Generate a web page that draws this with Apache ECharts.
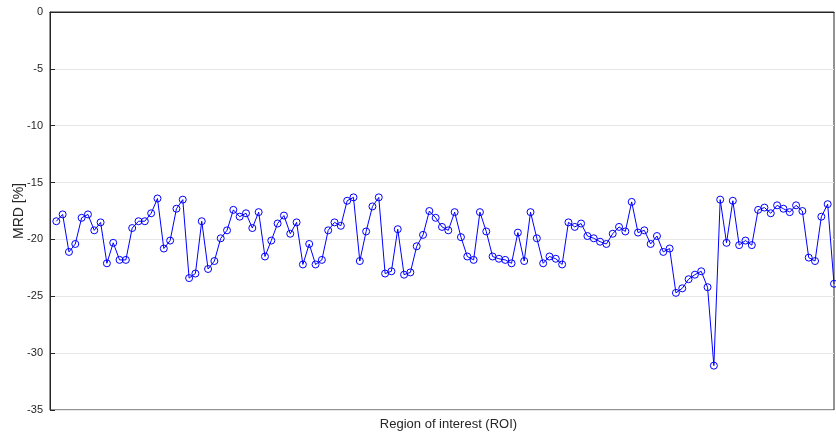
<!DOCTYPE html>
<html>
<head>
<meta charset="utf-8">
<script src="https://cdn.jsdelivr.net/npm/echarts@6/dist/echarts.min.js"></script>
<style>
  html, body { margin: 0; padding: 0; background: #fff; }
  #chart { width: 836px; height: 435px; }
</style>
</head>
<body>
<div id="chart"></div>
<script>
// MRD per region of interest, in percent (ROI index 1..124)
const mrdValues = [
  -18.4, -17.8, -21.1, -20.4, -18.1, -17.8, -19.2, -18.5, -22.1, -20.3,
  -21.8, -21.8, -19.0, -18.4, -18.4, -17.7, -16.4, -20.8, -20.1, -17.3,
  -16.5, -23.4, -23.0, -18.4, -22.6, -21.9, -19.9, -19.2, -17.4, -18.0,
  -17.7, -19.0, -17.6, -21.5, -20.1, -18.6, -17.9, -19.5, -18.5, -22.2,
  -20.4, -22.2, -21.8, -19.2, -18.5, -18.8, -16.6, -16.3, -21.9, -19.3,
  -17.1, -16.3, -23.0, -22.8, -19.1, -23.1, -22.9, -20.6, -19.6, -17.5,
  -18.1, -18.9, -19.2, -17.6, -19.8, -21.5, -21.8, -17.6, -19.3, -21.5,
  -21.7, -21.8, -22.1, -19.4, -21.9, -17.6, -19.9, -22.1, -21.5, -21.7,
  -22.2, -18.5, -18.9, -18.6, -19.7, -19.9, -20.2, -20.4, -19.5, -18.9,
  -19.3, -16.7, -19.4, -19.2, -20.4, -19.7, -21.1, -20.8, -24.7, -24.3,
  -23.5, -23.1, -22.8, -24.2, -31.1, -16.5, -20.3, -16.6, -20.5, -20.1,
  -20.5, -17.4, -17.2, -17.7, -17.0, -17.3, -17.6, -17.0, -17.5, -21.6,
  -21.9, -18.0, -16.9, -23.9
];
const roiIndex = mrdValues.map((_, i) => i + 1);
const yTicks = [0, -5, -10, -15, -20, -25, -30, -35];

const axisColor = '#262626';
const font = 'Liberation Sans, Arial, Helvetica, sans-serif';

const chart = echarts.init(document.getElementById('chart'), null, { renderer: 'canvas' });
chart.setOption({
  animation: false,
  backgroundColor: '#ffffff',
  grid: {
    left: 50, right: 2, top: 12, bottom: 25,
    outerBoundsMode: 'none',
    containLabel: false,
    show: true, borderColor: axisColor, borderWidth: 1, backgroundColor: 'transparent'
  },
  xAxis: {
    type: 'value',
    min: 0, max: roiIndex.length,
    name: 'Region of interest (ROI)',
    nameLocation: 'middle',
    nameGap: 8,
    nameMoveOverlap: false,
    nameTextStyle: { fontFamily: font, fontSize: 13, color: axisColor, padding: [0, 0, 0, 13] },
    axisLine: { show: true, lineStyle: { color: axisColor, width: 1 } },
    axisTick: { show: false },
    axisLabel: { show: false },
    splitLine: { show: false }
  },
  yAxis: {
    type: 'value',
    min: -35, max: 0, interval: 5,
    name: 'MRD [%]',
    nameLocation: 'middle',
    nameGap: 24,
    nameMoveOverlap: false,
    nameTextStyle: { fontFamily: font, fontSize: 14, color: axisColor },
    axisLine: { show: true, lineStyle: { color: axisColor, width: 1 } },
    axisTick: { show: true, inside: true, length: 5, lineStyle: { color: axisColor } },
    axisLabel: {
      fontFamily: font, fontSize: 11, color: axisColor, margin: 7,
      formatter: v => (yTicks.includes(v) ? String(v) : '')
    },
    splitLine: { show: true, lineStyle: { color: '#e6e6e6', width: 1 } }
  },
  series: [{
    type: 'line',
    data: roiIndex.map((x, i) => [x, mrdValues[i]]),
    symbol: 'circle',
    symbolSize: 7,
    showAllSymbol: true,
    lineStyle: { color: '#0000ff', width: 1 },
    itemStyle: { color: 'rgba(0,0,0,0)', borderColor: '#0000ff', borderWidth: 1 },
    emphasis: { disabled: true },
    z: 3
  }]
});
</script>
</body>
</html>
